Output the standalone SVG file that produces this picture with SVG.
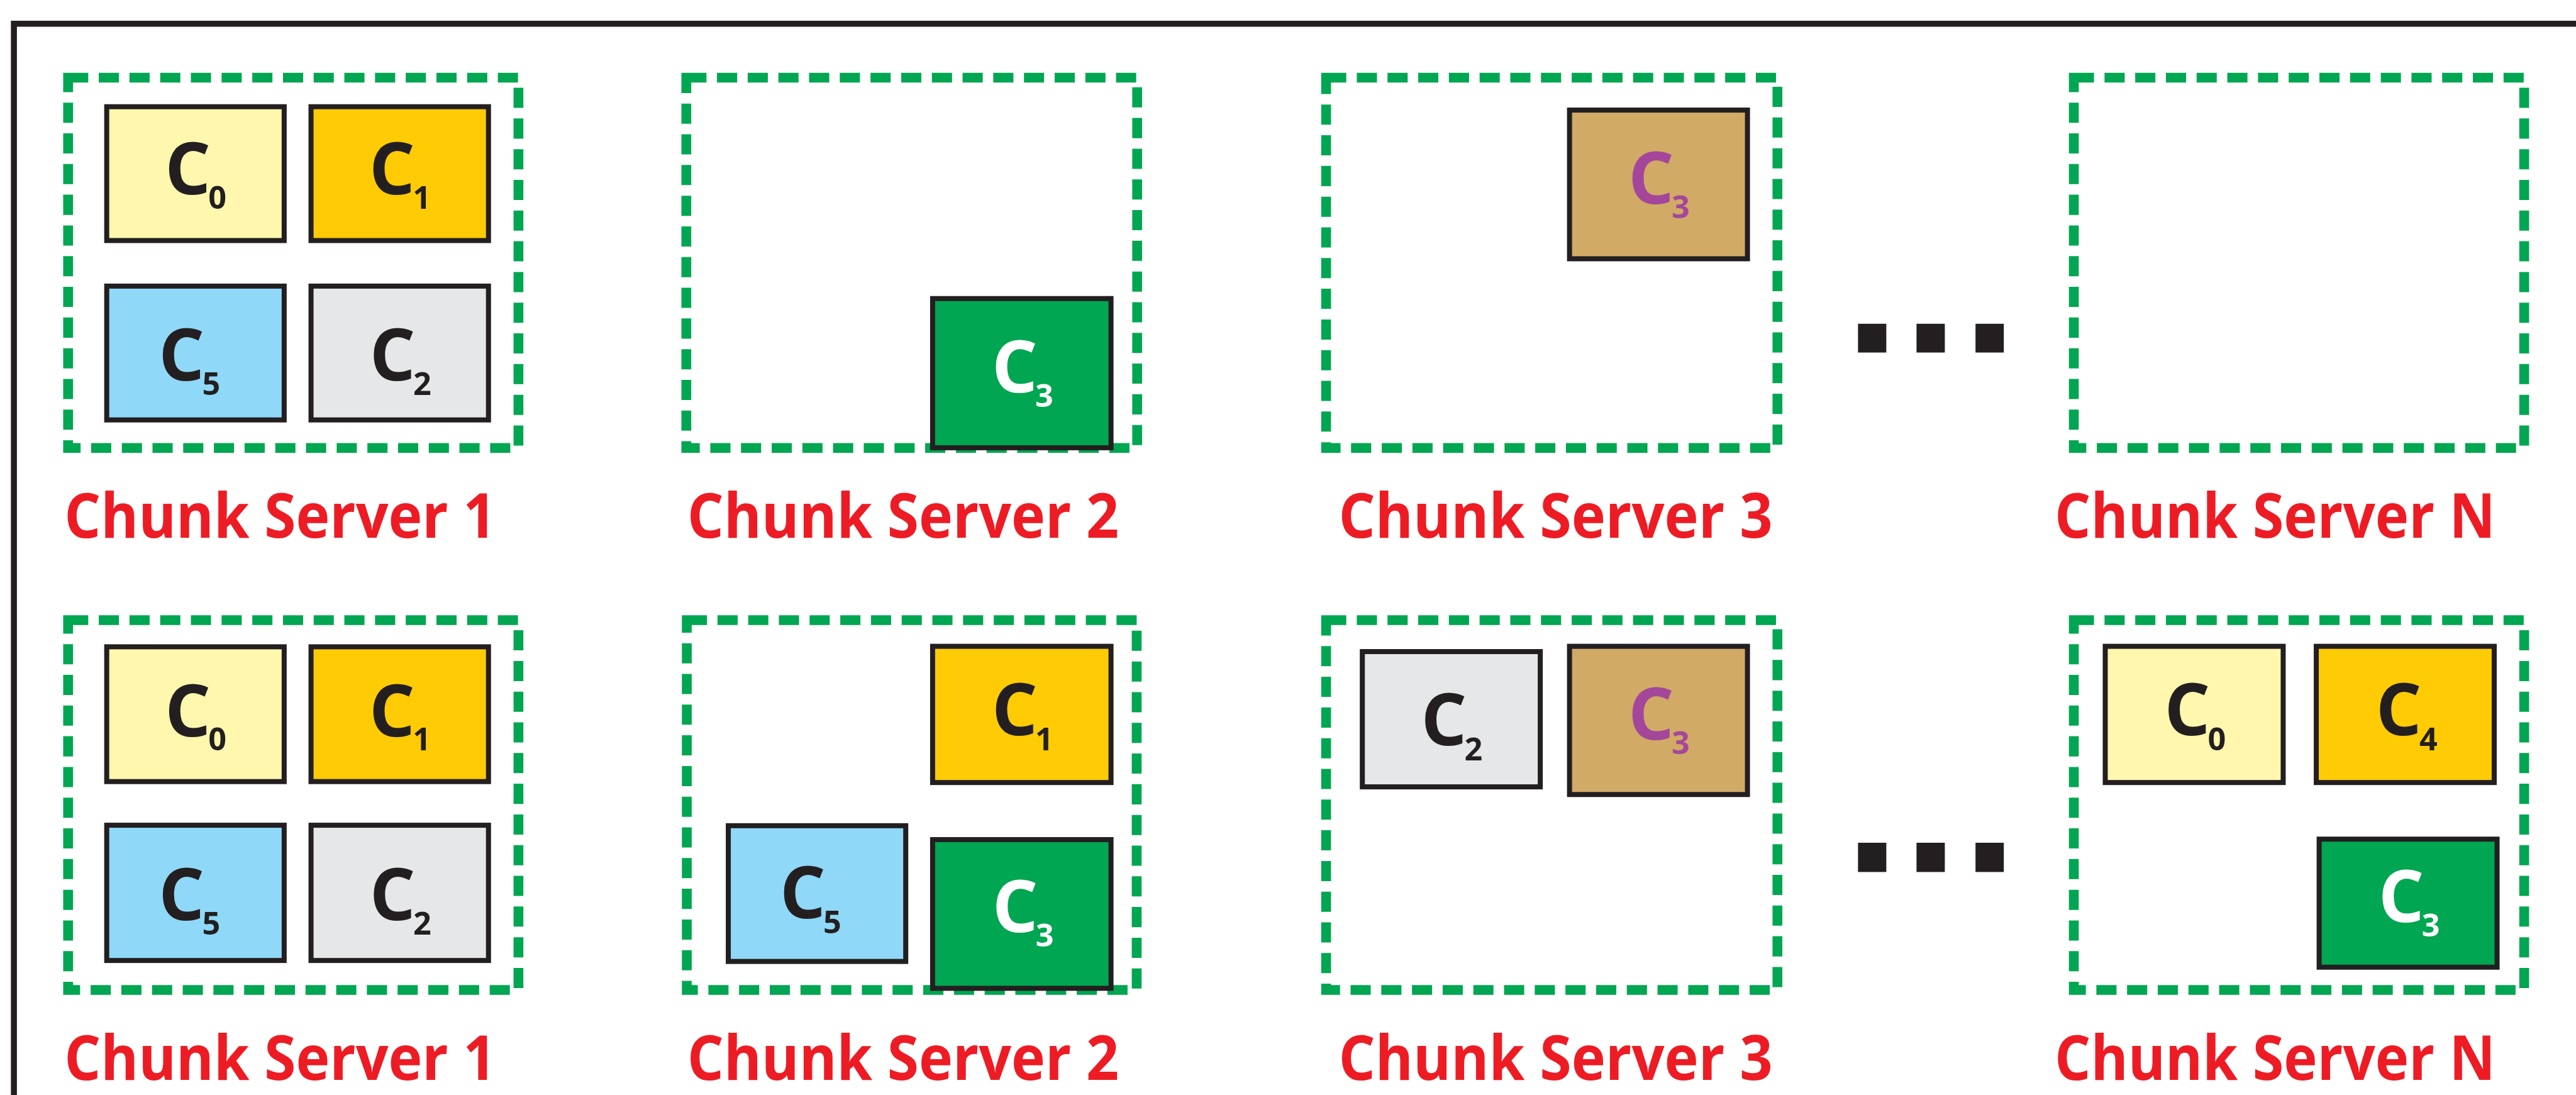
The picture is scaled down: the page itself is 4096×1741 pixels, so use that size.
<svg xmlns="http://www.w3.org/2000/svg" width="4096" height="1741" viewBox="0 0 4096 1741">
  <style>
    .frame { fill: none; stroke: #231F20; stroke-width: 12.5; }
    .server { fill: none; stroke: #00A651; stroke-width: 20.5; stroke-dasharray: 42 22; }
    .chunk { stroke: #231F20; stroke-width: 10.5; }
    .c0 { fill: #FFF7AD; }
    .c1 { fill: #FFCB05; }
    .c5 { fill: #8FD8F8; }
    .c2 { fill: #E6E7E8; }
    .c3g { fill: #00A651; }
    .c3b { fill: #D1AA66; }
    .lbl { font-family: "Open Sans", "Liberation Sans", sans-serif; font-weight: 700; font-size: 150px; text-anchor: middle; fill: #231F20; }
    .lbl tspan { font-size: 66px; }
    .wht { fill: #FFFFFF; }
    .pur { fill: #A4479A; }
    .name { font-family: "Open Sans", "Liberation Sans", sans-serif; font-weight: 700; font-size: 130px; fill: #ED1C24; }
    .dot { fill: #231F20; }
  </style>

  <g transform="scale(0.76261)">
    <!-- outer frame (only left and top edges fall inside the view) -->
    <rect class="frame" x="29" y="49.5" width="8000" height="8000"/>

    <!-- ===== upper row ===== -->
    <g id="row1-server1">
      <rect class="server" x="142" y="162" width="939" height="772"/>
      <g id="row1-s1-c0"><rect class="chunk c0" x="222.5" y="222.5" width="370" height="279"/>
        <text class="lbl" x="408" y="405">C<tspan dx="-5" dy="31">0</tspan></text></g>
      <g id="row1-s1-c1"><rect class="chunk c1" x="648.5" y="222.5" width="370" height="279"/>
        <text class="lbl" x="834" y="405">C<tspan dx="-5" dy="31">1</tspan></text></g>
      <g id="row1-s1-c5"><rect class="chunk c5" x="222.5" y="596.5" width="370" height="279"/>
        <text class="lbl" x="395" y="793">C<tspan dx="-5" dy="31">5</tspan></text></g>
      <g id="row1-s1-c2"><rect class="chunk c2" x="648.5" y="596.5" width="370" height="279"/>
        <text class="lbl" x="835" y="793">C<tspan dx="-5" dy="31">2</tspan></text></g>
      <text class="name" x="134" y="1121" textLength="900" lengthAdjust="spacingAndGlyphs">Chunk Server 1</text>
    </g>

    <g id="row1-server2">
      <rect class="server" x="1431" y="162" width="940" height="772"/>
      <g id="row1-s2-c3"><rect class="chunk c3g" x="1944.5" y="622.5" width="372" height="311"/>
        <text class="lbl wht" x="2132" y="818">C<tspan dx="-5" dy="30">3</tspan></text></g>
      <text class="name" x="1433" y="1121" textLength="900" lengthAdjust="spacingAndGlyphs">Chunk Server 2</text>
    </g>

    <g id="row1-server3">
      <rect class="server" x="2765" y="162" width="941" height="772"/>
      <g id="row1-s3-c3"><rect class="chunk c3b" x="3272.5" y="229.5" width="371" height="310"/>
        <text class="lbl pur" x="3459" y="425">C<tspan dx="-5" dy="30">3</tspan></text></g>
      <text class="name" x="2791" y="1121" textLength="905" lengthAdjust="spacingAndGlyphs">Chunk Server 3</text>
    </g>

    <g id="row1-ellipsis">
      <rect class="dot" x="3874" y="675" width="59" height="60"/>
      <rect class="dot" x="3996" y="675" width="59" height="60"/>
      <rect class="dot" x="4119" y="675" width="59" height="60"/>
    </g>

    <g id="row1-serverN">
      <rect class="server" x="4324" y="162" width="939" height="772"/>
      <text class="name" x="4284" y="1121" textLength="919" lengthAdjust="spacingAndGlyphs">Chunk Server N</text>
    </g>

    <!-- ===== lower row ===== -->
    <g id="row2-server1">
      <rect class="server" x="142" y="1293" width="939" height="771"/>
      <g id="row2-s1-c0"><rect class="chunk c0" x="222.5" y="1348.5" width="370" height="281"/>
        <text class="lbl" x="408" y="1535">C<tspan dx="-5" dy="30">0</tspan></text></g>
      <g id="row2-s1-c1"><rect class="chunk c1" x="648.5" y="1348.5" width="370" height="281"/>
        <text class="lbl" x="834" y="1535">C<tspan dx="-5" dy="30">1</tspan></text></g>
      <g id="row2-s1-c5"><rect class="chunk c5" x="222.5" y="1720.5" width="370" height="282"/>
        <text class="lbl" x="395" y="1918">C<tspan dx="-5" dy="30">5</tspan></text></g>
      <g id="row2-s1-c2"><rect class="chunk c2" x="648.5" y="1720.5" width="370" height="282"/>
        <text class="lbl" x="835" y="1918">C<tspan dx="-5" dy="30">2</tspan></text></g>
      <text class="name" x="134" y="2251" textLength="900" lengthAdjust="spacingAndGlyphs">Chunk Server 1</text>
    </g>

    <g id="row2-server2">
      <rect class="server" x="1432" y="1293" width="938" height="771"/>
      <g id="row2-s2-c1"><rect class="chunk c1" x="1944.5" y="1347.5" width="372" height="284"/>
        <text class="lbl" x="2132" y="1533">C<tspan dx="-5" dy="31">1</tspan></text></g>
      <g id="row2-s2-c5"><rect class="chunk c5" x="1518.5" y="1721.5" width="370" height="283"/>
        <text class="lbl" x="1690" y="1915">C<tspan dx="-5" dy="31">5</tspan></text></g>
      <g id="row2-s2-c3"><rect class="chunk c3g" x="1944.5" y="1750.5" width="372" height="310"/>
        <text class="lbl wht" x="2133" y="1943">C<tspan dx="-5" dy="31">3</tspan></text></g>
      <text class="name" x="1433" y="2251" textLength="900" lengthAdjust="spacingAndGlyphs">Chunk Server 2</text>
    </g>

    <g id="row2-server3">
      <rect class="server" x="2765" y="1293" width="941" height="771"/>
      <g id="row2-s3-c2"><rect class="chunk c2" x="2840.5" y="1358.5" width="371" height="282"/>
        <text class="lbl" x="3027" y="1554">C<tspan dx="-5" dy="31">2</tspan></text></g>
      <g id="row2-s3-c3"><rect class="chunk c3b" x="3272.5" y="1347.5" width="371" height="309"/>
        <text class="lbl pur" x="3459" y="1542">C<tspan dx="-5" dy="30">3</tspan></text></g>
      <text class="name" x="2791" y="2251" textLength="905" lengthAdjust="spacingAndGlyphs">Chunk Server 3</text>
    </g>

    <g id="row2-ellipsis">
      <rect class="dot" x="3874" y="1757" width="59" height="61"/>
      <rect class="dot" x="3996" y="1757" width="59" height="61"/>
      <rect class="dot" x="4119" y="1757" width="59" height="61"/>
    </g>

    <g id="row2-serverN">
      <rect class="server" x="4324" y="1293" width="939" height="771"/>
      <g id="row2-sN-c0"><rect class="chunk c0" x="4389.5" y="1347.5" width="371" height="284"/>
        <text class="lbl" x="4577" y="1533">C<tspan dx="-5" dy="31">0</tspan></text></g>
      <g id="row2-sN-c4"><rect class="chunk c1" x="4829.5" y="1347.5" width="371" height="284"/>
        <text class="lbl" x="5018" y="1533">C<tspan dx="-5" dy="31">4</tspan></text></g>
      <g id="row2-sN-c3"><rect class="chunk c3g" x="4835.5" y="1749.5" width="371" height="267"/>
        <text class="lbl wht" x="5023" y="1922">C<tspan dx="-5" dy="31">3</tspan></text></g>
      <text class="name" x="4284" y="2251" textLength="919" lengthAdjust="spacingAndGlyphs">Chunk Server N</text>
    </g>
  </g>
</svg>
